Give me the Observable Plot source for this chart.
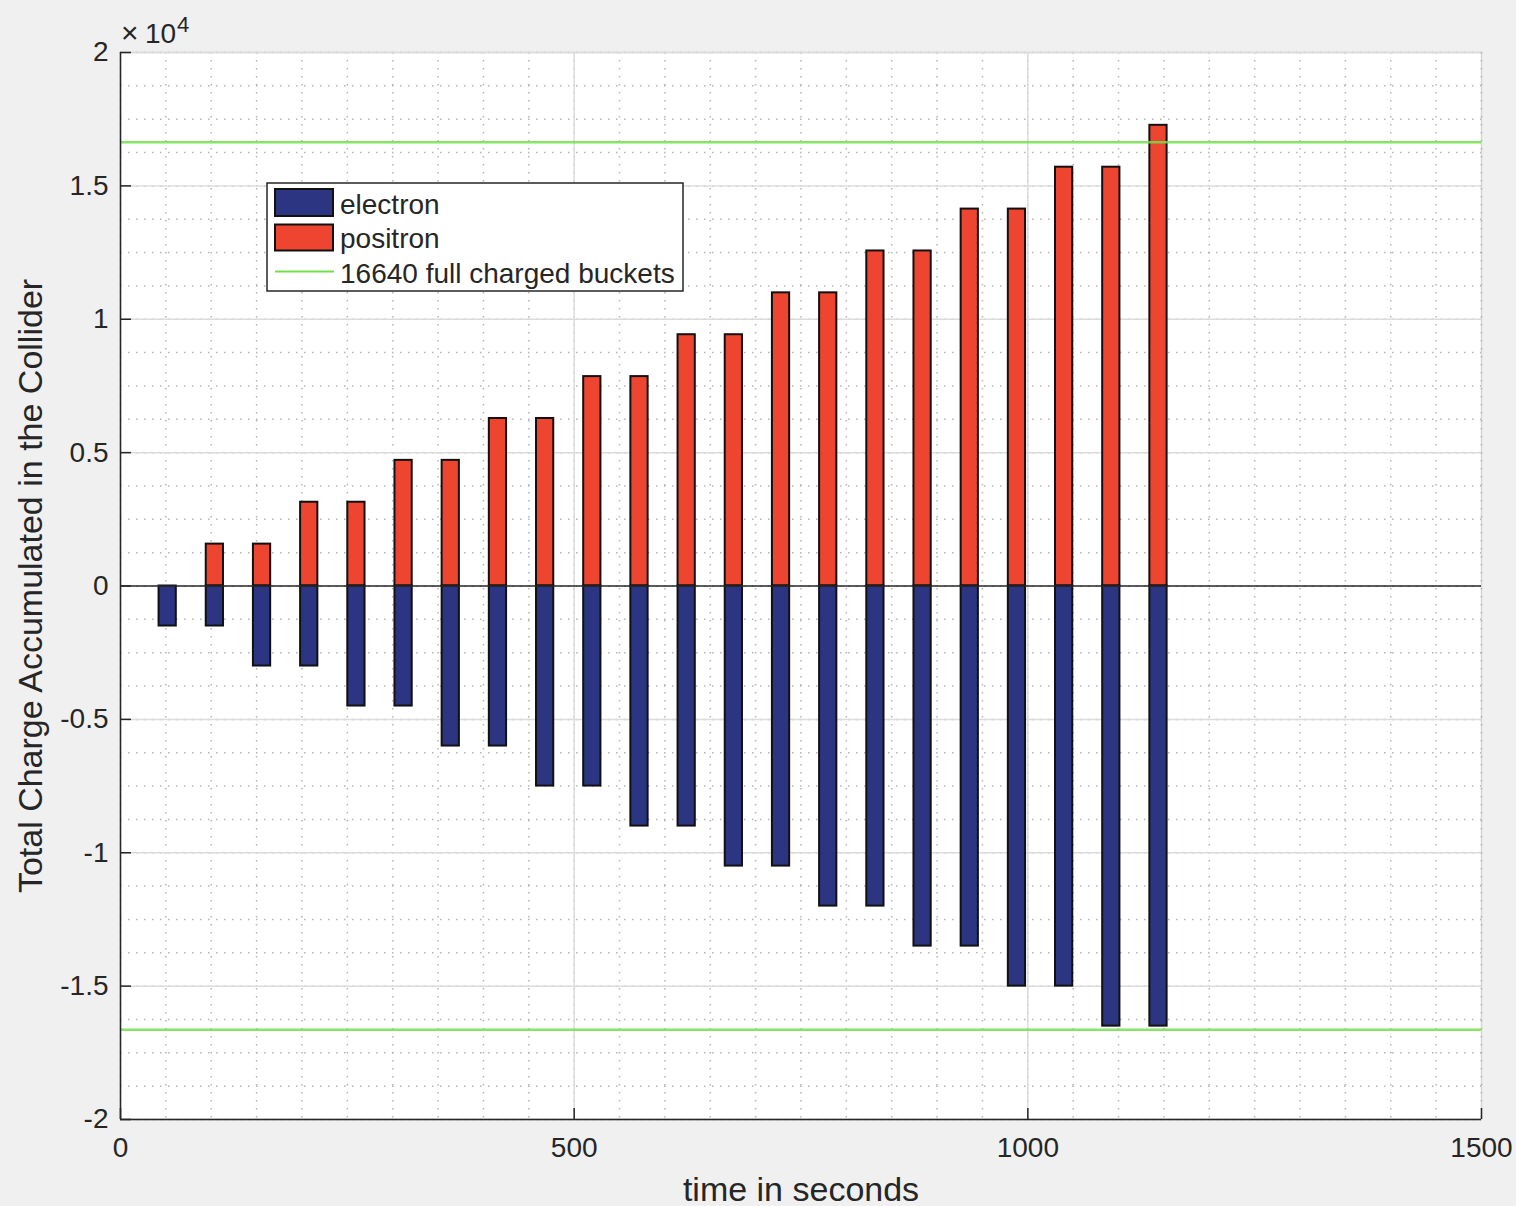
<!DOCTYPE html>
<html>
<head>
<meta charset="utf-8">
<script src="https://cdn.jsdelivr.net/npm/d3@7"></script>
<script src="https://cdn.jsdelivr.net/npm/@observablehq/plot@0.6"></script>
<style>
  html, body { margin: 0; padding: 0; background: #f0f0f0; overflow: hidden; }
  #chart svg { display: block; }
</style>
</head>
<body>
<div id="chart"></div>
<script>
// ---- data ----
const time = [52, 104, 156, 208, 260, 312, 364, 416, 468, 520, 572, 624, 676, 728, 780, 832, 884, 936, 988, 1040, 1092, 1144];
const electron = [-1500, -1500, -3000, -3000, -4500, -4500, -6000, -6000, -7500, -7500, -9000, -9000, -10500, -10500, -12000, -12000, -13500, -13500, -15000, -15000, -16500, -16500];
const positron = [0, 1570, 1570, 3140, 3140, 4710, 4710, 6280, 6280, 7850, 7850, 9420, 9420, 10990, 10990, 12560, 12560, 14130, 14130, 15700, 15700, 17270];
const fullCharge = 16640;
const seriesNames = ["electron", "positron", "16640 full charged buckets"];
const xTicks = [0, 500, 1000, 1500];
const yTicks = [-20000, -15000, -10000, -5000, 0, 5000, 10000, 15000, 20000];
const xMinor = d3.range(0, 1501, 50);
const yMinor = d3.range(-20000, 20001, 1250);
const xLabel = "time in seconds";
const yLabel = "Total Charge Accumulated in the Collider";

const data = time.map((t, i) => ({t, electron: electron[i], positron: positron[i]}));
const halfWidth = 9.5;

const colElectron = "#2c3582";
const colPositron = "#ee4530";
const colGreen = "#72df4c";
const ink = "#262626";
const font = "'Liberation Sans', Arial, Helvetica, sans-serif";

const svg = Plot.plot({
  width: 1516,
  height: 1206,
  marginLeft: 120,
  marginRight: 35,
  marginTop: 52,
  marginBottom: 87,
  style: {background: "#f0f0f0", fontFamily: font, color: ink, overflow: "visible"},
  x: {domain: [0, 1500], label: null},
  y: {domain: [-20000, 20000], label: null},
  marks: [
    Plot.frame({fill: "white", stroke: "#d6d6d6", strokeWidth: 1.5}),
    Plot.gridX(xMinor, {stroke: "#a8a8a8", strokeOpacity: 0.85, strokeWidth: 1.5, strokeDasharray: "1.5,6.5"}),
    Plot.gridY(yMinor, {stroke: "#a8a8a8", strokeOpacity: 0.85, strokeWidth: 1.5, strokeDasharray: "1.5,6.5"}),
    Plot.gridX([500, 1000], {stroke: "#dcdcdc", strokeOpacity: 1, strokeWidth: 1.5}),
    Plot.gridY(yTicks.filter(d => d !== 0), {stroke: "#dcdcdc", strokeOpacity: 1, strokeWidth: 1.5}),
    Plot.rectY(data.filter(d => d.positron > 0), {
      x1: d => d.t - halfWidth, x2: d => d.t + halfWidth, y1: 0, y2: "positron",
      fill: colPositron, stroke: "#111", strokeWidth: 2
    }),
    Plot.rectY(data, {
      x1: d => d.t - halfWidth, x2: d => d.t + halfWidth, y1: 0, y2: "electron",
      fill: colElectron, stroke: "#111", strokeWidth: 2
    }),
    Plot.ruleY([0], {stroke: ink, strokeWidth: 1.5}),
    Plot.ruleY([fullCharge, -fullCharge], {stroke: colGreen, strokeWidth: 2.5, strokeOpacity: 0.85}),
    Plot.ruleX([0], {stroke: ink, strokeWidth: 1.5}),
    Plot.ruleY([-20000], {stroke: ink, strokeWidth: 1.5}),
    // tick labels
    Plot.axisX(xTicks, {tickSize: 0, tickPadding: 18, fontSize: 28, fill: ink, tickFormat: d => String(d), label: null}),
    Plot.axisY(yTicks, {tickSize: 0, tickPadding: 12, fontSize: 28, fill: ink, tickFormat: d => String(d / 1e4), label: null}),
    // inward tick marks
    Plot.axisX(xTicks, {tickSize: -11, stroke: ink, strokeWidth: 1.5, tickFormat: () => "", label: null}),
    Plot.axisY(yTicks, {tickSize: -11, stroke: ink, strokeWidth: 1.5, tickFormat: () => "", label: null}),
    // axis titles
    Plot.text([xLabel], {frameAnchor: "bottom", dy: 71, textAnchor: "middle", lineAnchor: "middle", fontSize: 34, fill: ink}),
    Plot.text([yLabel], {frameAnchor: "left", dx: -89, rotate: -90, textAnchor: "middle", lineAnchor: "middle", fontSize: 34, fill: ink})
  ]
});

document.getElementById("chart").appendChild(svg);

// ---- exponent label and legend ----
const s = d3.select(svg);
const ann = s.append("g").attr("font-family", font).attr("fill", ink).attr("text-anchor", "start");
ann.append("text").attr("x", 121).attr("y", 43).attr("font-size", 30).attr("font-weight", 300).text("\u00d7");
ann.append("text").attr("x", 145).attr("y", 43).attr("font-size", 28).text("10");
ann.append("text").attr("x", 177).attr("y", 32).attr("font-size", 22).text("4");

const lg = s.append("g").attr("font-family", font).attr("text-anchor", "start");
lg.append("rect").attr("x", 267).attr("y", 183).attr("width", 416).attr("height", 108)
  .attr("fill", "white").attr("stroke", ink).attr("stroke-width", 1.5);
lg.append("rect").attr("x", 275).attr("y", 189).attr("width", 58).attr("height", 27)
  .attr("fill", colElectron).attr("stroke", "#111").attr("stroke-width", 2);
lg.append("rect").attr("x", 275).attr("y", 224.5).attr("width", 58).attr("height", 26)
  .attr("fill", colPositron).attr("stroke", "#111").attr("stroke-width", 2);
lg.append("line").attr("x1", 275).attr("x2", 334).attr("y1", 271.5).attr("y2", 271.5)
  .attr("stroke", colGreen).attr("stroke-width", 2);
const baselines = [214, 248, 283];
seriesNames.forEach((name, i) => {
  lg.append("text").attr("x", 340).attr("y", baselines[i]).attr("font-size", 28)
    .attr("fill", ink).attr("text-anchor", "start").text(name);
});
</script>
</body>
</html>
